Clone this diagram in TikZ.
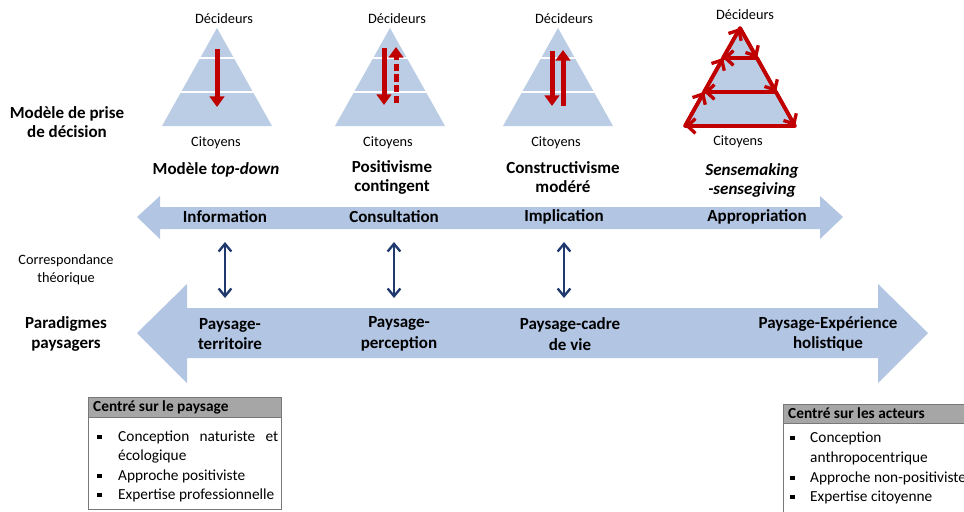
\documentclass[tikz,border=0pt]{standalone}
\usepackage{fontspec}
\setmainfont{Carlito}
\usetikzlibrary{arrows.meta}
\definecolor{pyrblue}{RGB}{186,205,228}
\definecolor{barblue}{RGB}{178,197,227}
\definecolor{darkred}{RGB}{192,0,0}
\definecolor{navyarr}{RGB}{31,56,110}
\definecolor{headgray}{RGB}{166,166,166}
\definecolor{boxgray}{RGB}{120,120,120}
\newcommand{\sqbul}{\raisebox{0.3ex}{\rule{0.28em}{0.28em}}}
\begin{document}
\begin{tikzpicture}[x=0.3mm,y=-0.3mm,
    smalltext/.style={font=\fontsize{12.2}{13.8}\selectfont,align=center},
    boldlabel/.style={font=\fontsize{14.5}{16.2}\selectfont\bfseries,align=center},
    boxtext/.style={font=\fontsize{13.1}{15}\selectfont,anchor=west,inner sep=0pt},
    redarrow/.style={draw=darkred,line width=1.5mm,-{Triangle[length=3.2mm,width=4.4mm]}},
    redloop/.style={draw=darkred,line width=1.1mm,-{Straight Barb[length=2.4mm,width=4.4mm,line width=1mm]}},
    corr/.style={draw=navyarr,line width=0.7mm,
      {Straight Barb[length=2.3mm,width=3.8mm]}-{Straight Barb[length=2.3mm,width=3.8mm]}}]
  \useasboundingbox (0,0) rectangle (964,511);
  \clip (0,0) rectangle (964,511);

  \foreach \cx in {217,390,558,740} {
    \fill[pyrblue] (\cx,28) -- (\cx+55,126) -- (\cx-55,126) -- cycle;
    \draw[white,line width=0.6mm] (\cx-22,58) -- (\cx+22,58) (\cx-41,92) -- (\cx+41,92);
  }
  \draw[redarrow] (217,49) -- (217,107);
  \draw[redarrow] (384,48) -- (384,105);
  \draw[redarrow,dash pattern=on 2.2mm off 1mm] (396,103) -- (396,47);
  \draw[redarrow] (552,51) -- (552,106);
  \draw[redarrow] (563,106) -- (563,50);

  \coordinate (sA) at (740,28);
  \coordinate (sL1) at (723,58);
  \coordinate (sR1) at (757,58);
  \coordinate (sL2) at (704,92);
  \coordinate (sR2) at (776,92);
  \coordinate (sBL) at (685,126);
  \coordinate (sBR) at (795,126);
  \draw[darkred,line width=1.1mm,line join=round] (sA) -- (sBR) -- (sBL) -- cycle
    (sL1) -- (sR1) (sL2) -- (sR2);
  \draw[redloop] (sA) -- (sR1);
  \draw[redloop] (sR1) -- (sR2);
  \draw[redloop] (sR2) -- (sBR);
  \draw[redloop] (sR1) -- (sL1);
  \draw[redloop] (sR2) -- (sL2);
  \draw[redloop] (sBR) -- (sBL);
  \draw[redloop] (sBL) -- (sL2);
  \draw[redloop] (sL2) -- (sL1);
  \draw[redloop] (sL1) -- (sA);

  \node[smalltext] (dec1) at (224,19) {Décideurs};
  \node[smalltext] (dec2) at (397,19) {Décideurs};
  \node[smalltext] (dec3) at (564,19) {Décideurs};
  \node[smalltext] (dec4) at (745,15) {Décideurs};
  \node[smalltext] (cit1) at (216,143) {Citoyens};
  \node[smalltext] (cit2) at (388,143) {Citoyens};
  \node[smalltext] (cit3) at (556,143) {Citoyens};
  \node[smalltext] (cit4) at (738,142) {Citoyens};

  \node[boldlabel] (mod1) at (216,170) {Modèle \textit{top-down}};
  \node[boldlabel] (mod2) at (392,177) {Positivisme\\contingent};
  \node[boldlabel] (mod3) at (563,177) {Constructivisme\\modéré};
  \node[boldlabel,font=\fontsize{14.5}{16.2}\selectfont\bfseries\itshape] (mod4) at (752,180) {Sensemaking\\-sensegiving};

  \fill[barblue] (137,217) -- (160,196) -- (160,207) -- (820,207) -- (820,196) -- (843,217)
    -- (820,239) -- (820,229) -- (160,229) -- (160,239) -- cycle;
  \fill[barblue] (137,333) -- (187,284) -- (187,308) -- (878,308) -- (878,284) -- (928,333)
    -- (878,383) -- (878,358) -- (187,358) -- (187,383) -- cycle;

  \node[boldlabel] (mpd) at (67,122) {Modèle de prise\\de décision};
  \node[smalltext,font=\fontsize{12.2}{15.5}\selectfont] (cth) at (66,270) {Correspondance\\théorique};
  \node[boldlabel,font=\fontsize{14.5}{17.5}\selectfont\bfseries] (par) at (66,334) {Paradigmes\\paysagers};

  \node[boldlabel] (info) at (225,217) {Information};
  \node[boldlabel] (consu) at (394,217) {Consultation};
  \node[boldlabel] (impl) at (564,217) {Implication};
  \node[boldlabel] (appr) at (757,217) {Appropriation};
  \node[boldlabel,font=\fontsize{14.5}{17.5}\selectfont\bfseries] (pter) at (230,334) {Paysage-\\territoire};
  \node[boldlabel,font=\fontsize{14.5}{17.5}\selectfont\bfseries] (pper) at (399,334) {Paysage-\\perception};
  \node[boldlabel,font=\fontsize{14.5}{17.5}\selectfont\bfseries] (pcad) at (570,334) {Paysage-cadre\\de vie};
  \node[boldlabel,font=\fontsize{14.5}{17.5}\selectfont\bfseries] (pexp) at (828,334) {Paysage-Expérience\\holistique};

  \draw[corr,shorten <=7.5mm,shorten >=10.8mm] (info.center) -- (info.center |- pter.center);
  \draw[corr,shorten <=7.5mm,shorten >=10.8mm] (consu.center) -- (consu.center |- pper.center);
  \draw[corr,shorten <=7.5mm,shorten >=10.8mm] (impl.center) -- (impl.center |- pcad.center);

  \draw[boxgray,line width=0.3mm] (88,397) rectangle (281,509);
  \filldraw[fill=headgray,draw=boxgray,line width=0.3mm] (88,397) rectangle (281,417);
  \node[boxtext,font=\fontsize{13.1}{15}\selectfont\bfseries] (lhead) at (93,407) {Centré sur le paysage};
  \node[boxtext] (l1) at (97,437) {\makebox[6.3mm][l]{\sqbul}\makebox[48mm][s]{Conception naturiste et}};
  \node[boxtext] (l2) at (97,456) {\makebox[6.3mm][l]{}écologique};
  \node[boxtext] (l3) at (97,476) {\makebox[6.3mm][l]{\sqbul}Approche positiviste};
  \node[boxtext] (l4) at (97,495) {\makebox[6.3mm][l]{\sqbul}Expertise professionnelle};

  \draw[boxgray,line width=0.3mm] (783,404) rectangle (1000,530);
  \filldraw[fill=headgray,draw=boxgray,line width=0.3mm] (783,404) rectangle (1000,423);
  \node[boxtext,font=\fontsize{13.1}{15}\selectfont\bfseries] (rhead) at (788,413) {Centré sur les acteurs};
  \node[boxtext] (r1) at (790,438) {\makebox[6mm][l]{\sqbul}Conception};
  \node[boxtext] (r2) at (790,458) {\makebox[6mm][l]{}anthropocentrique};
  \node[boxtext] (r3) at (790,478) {\makebox[6mm][l]{\sqbul}Approche non-positiviste};
  \node[boxtext] (r4) at (790,497) {\makebox[6mm][l]{\sqbul}Expertise citoyenne};
\end{tikzpicture}
\end{document}
